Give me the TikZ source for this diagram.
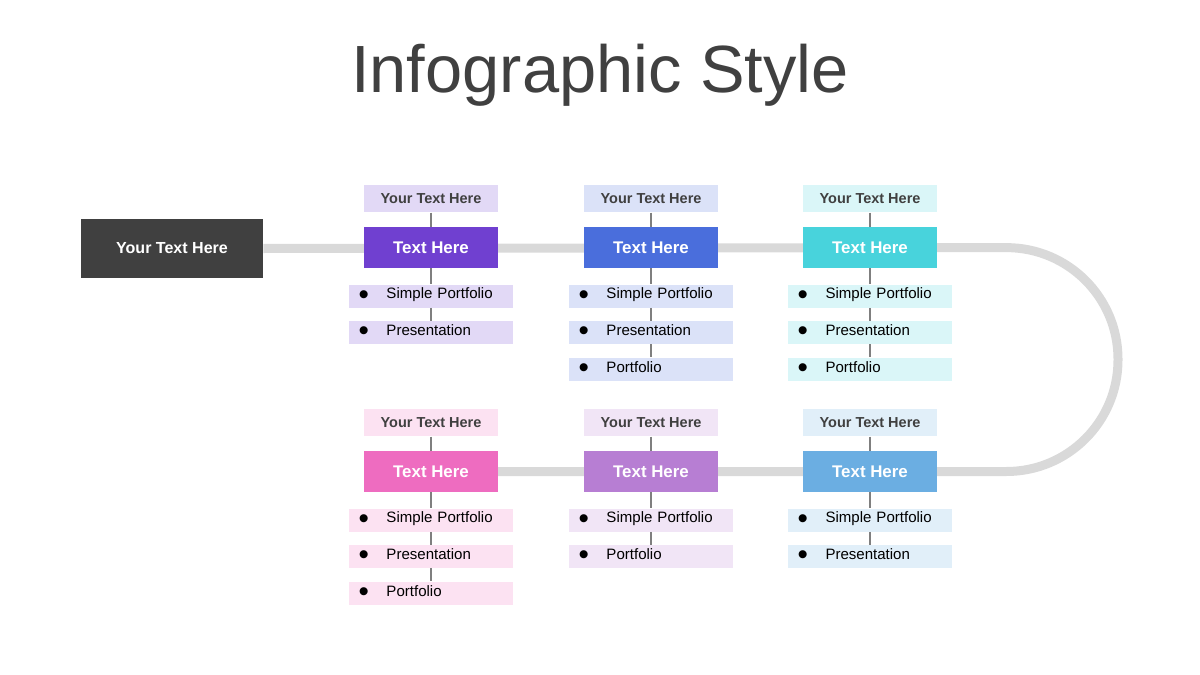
\documentclass[tikz,border=0pt]{standalone}
\usepackage{fontspec}
\setmainfont{Liberation Sans}
\usetikzlibrary{positioning,backgrounds}
\definecolor{cPur}{HTML}{7040D0}
\definecolor{cBlu}{HTML}{4A6EDC}
\definecolor{cCya}{HTML}{48D3DC}
\definecolor{cPnk}{HTML}{EE6CC0}
\definecolor{cLil}{HTML}{B77ED3}
\definecolor{cSky}{HTML}{6BAEE2}
\definecolor{cInk}{HTML}{404040}
\definecolor{cLine}{HTML}{7F7F7F}
\definecolor{cTrack}{HTML}{D9D9D9}
\tikzset{
  box/.style   ={rectangle,inner sep=0pt,align=center},
  hbox/.style  ={box,fill=#1,text=white,font=\fontsize{12}{14}\selectfont\bfseries,
                 minimum width=3.325cm,minimum height=1.025cm},
  tbox/.style  ={box,fill=#1!20,text=cInk,font=\fontsize{10.3}{12}\selectfont\bfseries,
                 minimum width=3.325cm,minimum height=0.675cm},
  ibox/.style  ={box,fill=#1!20,text=black,font=\fontsize{10.7}{12}\selectfont,
                 minimum width=4.075cm,minimum height=0.575cm,text width=3.475cm,
                 align=left,inner xsep=0.3cm},
  link/.style  ={draw=cLine,line width=0.04cm},
  track/.style ={draw=cTrack,line width=0.225cm,rounded corners=2.79cm},
}
\newcommand{\bul}[1]{\makebox[0.625cm][l]{\hspace{-0.07cm}\raisebox{-0.65ex}{\fontsize{21}{21}\selectfont\textbullet}}#1}

\begin{document}
\begin{tikzpicture}[x=0.025cm,y=-0.025cm]
\useasboundingbox (0,0) rectangle (1200,675);
\node[font=\fontsize{47.5}{50}\selectfont,text=cInk,anchor=base] (title) at (600,93) {Infographic Style};
\node[box,fill=cInk,text=white,font=\fontsize{11.4}{13}\selectfont\bfseries,
      minimum width=4.55cm,minimum height=1.475cm] (dk) at (172,248.5) {Your Text Here};
% upper row
\node[hbox=cPur] (t1) at (431,247.5) {Text Here};
\node[tbox=cPur,above=0.35cm of t1] (t1l) {Your Text Here};
\node[ibox=cPur,below=0.4cm of t1] (t1a) {\bul{Simple Portfolio}};
\node[ibox=cPur,below=0.325cm of t1a] (t1b) {\bul{Presentation}};
\node[hbox=cBlu] (t2) at (651,247.5) {Text Here};
\node[tbox=cBlu,above=0.35cm of t2] (t2l) {Your Text Here};
\node[ibox=cBlu,below=0.4cm of t2] (t2a) {\bul{Simple Portfolio}};
\node[ibox=cBlu,below=0.325cm of t2a] (t2b) {\bul{Presentation}};
\node[ibox=cBlu,below=0.325cm of t2b] (t2c) {\bul{Portfolio}};
\node[hbox=cCya] (t3) at (870,247.5) {Text Here};
\node[tbox=cCya,above=0.35cm of t3] (t3l) {Your Text Here};
\node[ibox=cCya,below=0.4cm of t3] (t3a) {\bul{Simple Portfolio}};
\node[ibox=cCya,below=0.325cm of t3a] (t3b) {\bul{Presentation}};
\node[ibox=cCya,below=0.325cm of t3b] (t3c) {\bul{Portfolio}};
% lower row
\node[hbox=cPnk] (b1) at (431,471.5) {Text Here};
\node[tbox=cPnk,above=0.35cm of b1] (b1l) {Your Text Here};
\node[ibox=cPnk,below=0.4cm of b1] (b1a) {\bul{Simple Portfolio}};
\node[ibox=cPnk,below=0.325cm of b1a] (b1b) {\bul{Presentation}};
\node[ibox=cPnk,below=0.325cm of b1b] (b1c) {\bul{Portfolio}};
\node[hbox=cLil] (b2) at (651,471.5) {Text Here};
\node[tbox=cLil,above=0.35cm of b2] (b2l) {Your Text Here};
\node[ibox=cLil,below=0.4cm of b2] (b2a) {\bul{Simple Portfolio}};
\node[ibox=cLil,below=0.325cm of b2a] (b2b) {\bul{Portfolio}};
\node[hbox=cSky] (b3) at (870,471.5) {Text Here};
\node[tbox=cSky,above=0.35cm of b3] (b3l) {Your Text Here};
\node[ibox=cSky,below=0.4cm of b3] (b3a) {\bul{Simple Portfolio}};
\node[ibox=cSky,below=0.325cm of b3a] (b3b) {\bul{Presentation}};
% track behind the boxes
\coordinate (r1) at (1118,247.5);
\coordinate (r2) at (1118,471.5);
\begin{scope}[on background layer]
\draw[track] (dk.east) -- (r1) -- (r2) -- (b1.east);
\end{scope}
% stems
\draw[link] (t1l) -- (t1) -- (t1a) -- (t1b);
\draw[link] (t2l) -- (t2) -- (t2a) -- (t2b) -- (t2c);
\draw[link] (t3l) -- (t3) -- (t3a) -- (t3b) -- (t3c);
\draw[link] (b1l) -- (b1) -- (b1a) -- (b1b) -- (b1c);
\draw[link] (b2l) -- (b2) -- (b2a) -- (b2b);
\draw[link] (b3l) -- (b3) -- (b3a) -- (b3b);
\end{tikzpicture}
\end{document}
